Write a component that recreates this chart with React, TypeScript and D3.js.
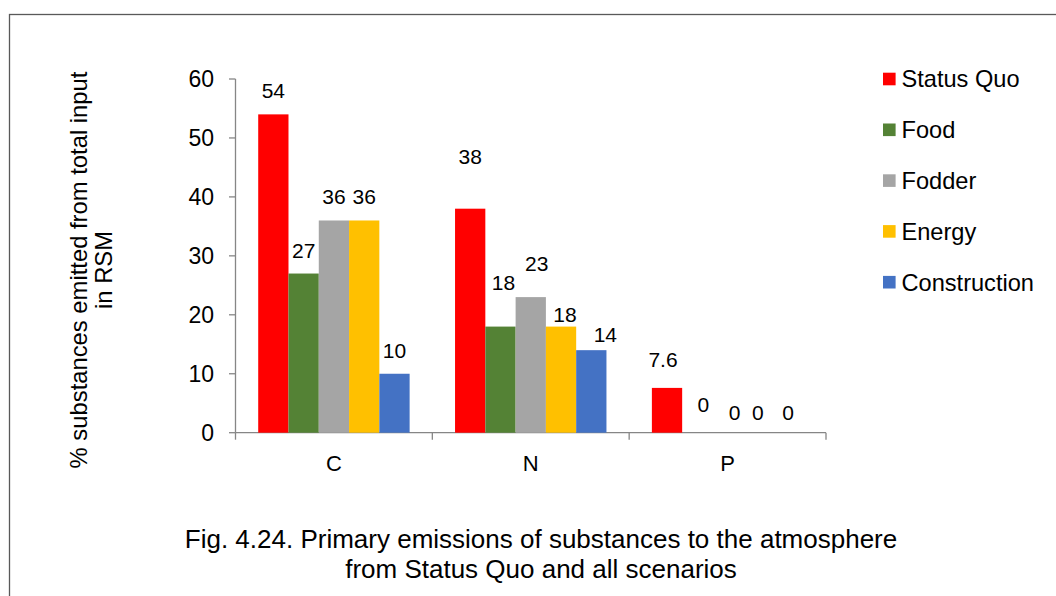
import React from "react";
import * as d3 from "d3";

const categories = ["C", "N", "P"];
const seriesNames = ["Status Quo", "Food", "Fodder", "Energy", "Construction"];
const statusQuo = [54, 38, 7.6];
const food = [27, 18, 0];
const fodder = [36, 23, 0];
const energy = [36, 18, 0];
const construction = [10, 14, 0];
const seriesValues = [statusQuo, food, fodder, energy, construction];
const seriesColors = ["#FF0000", "#548235", "#A5A5A5", "#FFC000", "#4472C4"];
const yTicks = [0, 10, 20, 30, 40, 50, 60];
const yTitleLines = ["% substances emitted from total input", "in RSM"];
const captionLines = [
  "Fig. 4.24. Primary emissions of substances to the atmosphere",
  "from Status Quo and all scenarios",
];
// manual label nudges (dx, dy) per series per category, as placed in the original
const labelNudges: [number, number][][] = [
  [[0, 0], [0, -29], [-4, -5]],
  [[0, 0], [3, -21], [6, -5]],
  [[0, 0], [6, -10], [7, 3]],
  [[0, 0], [4, 11], [0, 3]],
  [[0, 0], [14, 7.5], [0, 3]],
];

const W = 1056;
const H = 596;
const FONT = "Liberation Sans, Arial, sans-serif";

export default function App() {
  const x0 = d3.scaleBand<string>().domain(categories).range([235.5, 826]).paddingInner(0).paddingOuter(0);
  const bw = x0.bandwidth();
  const gap = bw * (1.5 / 6.5);
  const x1 = d3.scaleBand<string>().domain(seriesNames).range([gap / 2, bw - gap / 2]).padding(0);
  const y = d3.scaleLinear().domain([0, 60]).range([432.7, 79]);
  const axisColor = "#868686";
  const legendY = (i: number) => 79 + i * 50.8;

  return (
    <svg
      width={W}
      height={H}
      style={{ position: "absolute", left: 0, top: 0, background: "#fff" }}
      fontFamily={FONT}
    >
      <rect x={0} y={0} width={W} height={H} fill="#fff" />
      {/* outer frame (cropped at right and bottom) */}
      <rect x={9.5} y={14.5} width={W + 20} height={H + 20} fill="none" stroke="#595959" strokeWidth={1.3} />

      {/* y axis */}
      <line x1={235.5} x2={235.5} y1={y(60)} y2={y(0)} stroke={axisColor} strokeWidth={1.3} />
      {yTicks.map((t) => (
        <g key={t}>
          <line x1={229} x2={235.5} y1={y(t)} y2={y(t)} stroke={axisColor} strokeWidth={1.3} />
          <text x={214} y={y(t) + 8} textAnchor="end" fontSize={23} fill="#000">
            {t}
          </text>
        </g>
      ))}

      {/* x axis */}
      <line x1={235.5} x2={826} y1={y(0)} y2={y(0)} stroke={axisColor} strokeWidth={1.3} />
      {[...categories.map((c) => x0(c)!), 826].map((xx, i) => (
        <line key={i} x1={xx} x2={xx} y1={y(0)} y2={y(0) + 7} stroke={axisColor} strokeWidth={1.3} />
      ))}
      {categories.map((c) => (
        <text key={c} x={x0(c)! + bw / 2} y={470.7} textAnchor="middle" fontSize={22} fill="#000">
          {c}
        </text>
      ))}

      {/* bars */}
      {seriesValues.map((vals, si) =>
        vals.map((v, ci) => {
          const bx = x0(categories[ci])! + x1(seriesNames[si])!;
          return v > 0 ? (
            <rect
              key={`b${si}-${ci}`}
              x={bx}
              y={y(v)}
              width={x1.bandwidth()}
              height={y(0) - y(v)}
              fill={seriesColors[si]}
            />
          ) : null;
        })
      )}

      {/* data labels */}
      {seriesValues.map((vals, si) =>
        vals.map((v, ci) => {
          const bx = x0(categories[ci])! + x1(seriesNames[si])! + x1.bandwidth() / 2;
          const [dx, dy] = labelNudges[si][ci];
          return (
            <text
              key={`l${si}-${ci}`}
              x={bx + dx}
              y={y(v) - 16 + dy}
              textAnchor="middle"
              fontSize={21}
              fill="#000"
            >
              {v}
            </text>
          );
        })
      )}

      {/* y title */}
      <text transform={`translate(87,270) rotate(-90)`} textAnchor="middle" fontSize={23.8} fill="#000">
        {yTitleLines[0]}
      </text>
      <text transform={`translate(112,270) rotate(-90)`} textAnchor="middle" fontSize={23.8} fill="#000">
        {yTitleLines[1]}
      </text>

      {/* legend */}
      {seriesNames.map((s, i) => (
        <g key={s}>
          <rect x={883} y={legendY(i) - 6.3} width={12.6} height={12.6} fill={seriesColors[i]} />
          <text x={901.5} y={legendY(i) + 8.3} fontSize={23.6} fill="#000">
            {s}
          </text>
        </g>
      ))}

      {/* caption */}
      {captionLines.map((l, i) => (
        <text key={i} x={541} y={548.3 + i * 30} textAnchor="middle" fontSize={26} fill="#000">
          {l}
        </text>
      ))}
    </svg>
  );
}
